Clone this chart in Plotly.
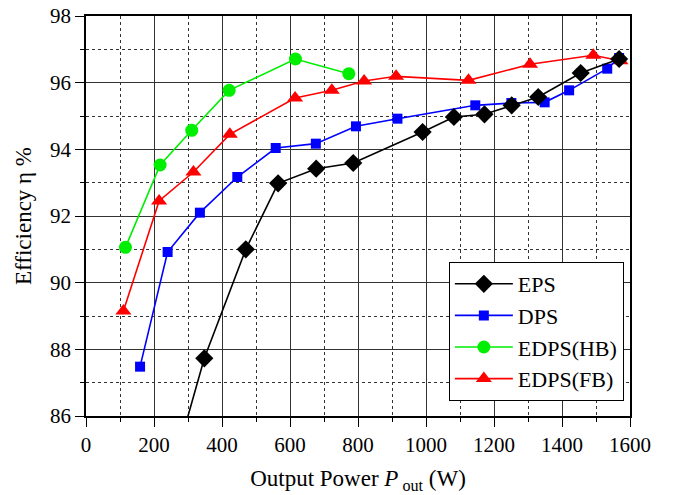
import plotly.graph_objects as go

eps_x = [250, 348, 470, 565, 677, 786, 990, 1082, 1172, 1252, 1330, 1455, 1568]
eps_y = [84.2, 87.73, 91.0, 92.98, 93.42, 93.59, 94.52, 94.97, 95.05, 95.32, 95.57, 96.29, 96.71]

dps_x = [159, 240, 335, 445, 558, 676, 794, 916, 1145, 1251, 1349, 1421, 1533, 1568]
dps_y = [87.48, 90.92, 92.1, 93.17, 94.04, 94.17, 94.69, 94.92, 95.32, 95.39, 95.41, 95.77, 96.42, 96.74]

hb_x = [116, 218, 311, 421, 616, 773]
hb_y = [91.06, 93.53, 94.57, 95.77, 96.71, 96.27]

fb_x = [110, 215, 316, 423, 615, 723, 818, 912, 1125, 1306, 1492, 1572]
fb_y = [89.15, 92.45, 93.32, 94.45, 95.54, 95.77, 96.05, 96.19, 96.07, 96.55, 96.82, 96.66]

font = "Liberation Serif, Times New Roman, serif"

fig = go.Figure()
# draw order: red, green, blue, black on top
fig.add_trace(go.Scatter(x=fb_x, y=fb_y, name="EDPS(FB)", mode="lines+markers",
                         line=dict(color="#ff0000", width=1.6),
                         marker=dict(symbol="triangle-up", size=14, color="#ff0000"),
                         legendrank=4))
fig.add_trace(go.Scatter(x=hb_x, y=hb_y, name="EDPS(HB)", mode="lines+markers",
                         line=dict(color="#00ee00", width=1.6),
                         marker=dict(symbol="circle", size=13, color="#00ee00"),
                         legendrank=3))
fig.add_trace(go.Scatter(x=dps_x, y=dps_y, name="DPS", mode="lines+markers",
                         line=dict(color="#0000ff", width=1.6),
                         marker=dict(symbol="square", size=10, color="#0000ff"),
                         legendrank=2))
fig.add_trace(go.Scatter(x=eps_x, y=eps_y, name="EPS", mode="lines+markers",
                         line=dict(color="#000000", width=1.6),
                         marker=dict(symbol="diamond", size=14, color="#000000"),
                         legendrank=1))

axis_common = dict(
    showline=True, linecolor="#000", linewidth=1.5, mirror=True,
    ticks="outside", ticklen=9, tickcolor="#000", tickwidth=1,
    showgrid=True, gridcolor="#333", gridwidth=1, zeroline=False,
    tickfont=dict(family=font, size=21, color="#000"),
    automargin=False,
)

fig.update_xaxes(range=[0, 1600], dtick=200, **axis_common,
                 minor=dict(dtick=100, showgrid=True, griddash="dot", gridcolor="#333",
                            ticks="outside", ticklen=4, tickcolor="#000"),
                 title=dict(text="Output Power <i>P</i><sub> out</sub> (W)",
                            font=dict(family=font, size=23, color="#000"), standoff=14))
fig.update_yaxes(range=[86, 98], dtick=2, **axis_common,
                 minor=dict(dtick=1, showgrid=True, griddash="dot", gridcolor="#333",
                            ticks="outside", ticklen=4, tickcolor="#000"),
                 title=dict(text="Efficiency η %",
                            font=dict(family=font, size=23, color="#000"), standoff=12))

fig.update_layout(
    width=680, height=495,
    margin=dict(l=86, r=50, t=16, b=79),
    plot_bgcolor="white", paper_bgcolor="white",
    legend=dict(x=0.667, y=0.0375, xanchor="left", yanchor="bottom",
                bgcolor="white", bordercolor="#000", borderwidth=1,
                font=dict(family=font, size=22, color="#000"),
                itemwidth=58, tracegroupgap=0),
)

fig.write_html("out.html")
